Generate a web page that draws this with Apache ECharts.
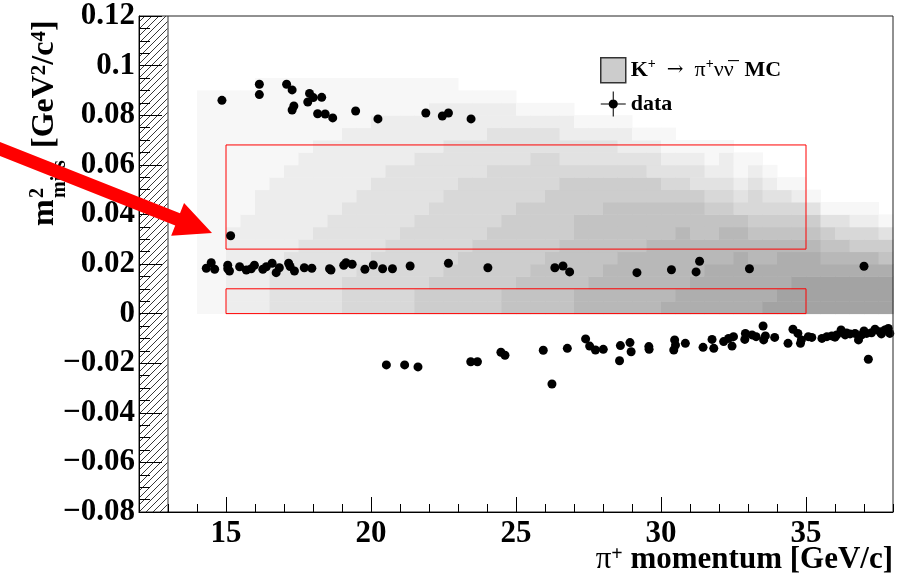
<!DOCTYPE html>
<html>
<head>
<meta charset="utf-8">
<script src="https://cdn.jsdelivr.net/npm/echarts@6/dist/echarts.min.js"></script>
<style>
  html, body { margin: 0; padding: 0; background: #fff; }
  #chart { width: 915px; height: 586px; }
</style>
</head>
<body>
<div id="chart"></div>
<script>
/* MC K+ -> pi+ nu nubar : grey level per 0.5 GeV column (from 14 GeV),
   each character = one m2 bin of 0.005 starting at 0 (bottom to top) */
var mcXStart = 14;
var mcXStep = 0.5;
var mcYStep = 0.005;
var mcColumns = [
  '1111111111111111110', // 14.0
  '1111111111111111110', // 14.5
  '2222222111111111110', // 15.0
  '2222222211111111110', // 15.5
  '2222222222111111111', // 16.0
  '3333222222211111111', // 16.5
  '3333322222221111111', // 17.0
  '3333332222222111111', // 17.5
  '3333333222222211111', // 18.0
  '3333333322222211111', // 18.5
  '4443333332222221111', // 19.0
  '4444333333222221111', // 19.5
  '4444433333322222111', // 20.0
  '4444443333332222111', // 20.5
  '4444444333332222111', // 21.0
  '5544444433333222111', // 21.5
  '5554444443333222211', // 22.0
  '5555444444333322211', // 22.5
  '5555544444433322210', // 23.0
  '5555554444433322210', // 23.5
  '5555555444443332210', // 24.0
  '6655555544443332210', // 24.5
  '6665555554443332100', // 25.0
  '6666555554444332100', // 25.5
  '6666655555444332100', // 26.0
  '6666665555543322100', // 26.5
  '7766666655543321000', // 27.0
  '7776666655543321000', // 27.5
  '7777666665543321000', // 28.0
  '7777766665543221000', // 28.5
  '7777766665543210000', // 29.0
  '7777776665533210000', // 29.5
  '8777776665432110000', // 30.0
  '8877777665432100000', // 30.5
  '8887776665332100000', // 31.0
  '8888776654321100000', // 31.5
  '8888777654322100000', // 32.0
  '8888877643211000000', // 32.5
  '8888776544321000000', // 33.0
  '9888776543210000000', // 33.5
  '9988876543100000000', // 34.0
  '9998876542100000000', // 34.5
  '9998876531000000000', // 35.0
  '9998765310000000000', // 35.5
  '9998764310000000000', // 36.0
  '9998754210000000000', // 36.5
  '9998754210000000000', // 37.0
  '9998653100000000000'  // 37.5
];

/* data events [p (GeV/c), m2miss (GeV2/c4)] */
var dataHigh = [
  [14.86, 0.086], [16.15, 0.0925], [16.15, 0.0883], [17.09, 0.0925], [17.28, 0.0902],
  [17.34, 0.0837], [17.28, 0.0821], [17.88, 0.0888], [18.01, 0.0871], [17.82, 0.0853],
  [18.30, 0.0872], [18.16, 0.0806], [18.42, 0.0805], [18.68, 0.0789], [19.47, 0.0817],
  [20.24, 0.0785], [21.89, 0.0809], [22.46, 0.0797], [22.67, 0.0809], [23.45, 0.0785],
  [15.16, 0.0314]
];
var dataMid = [
  [14.32, 0.0183], [14.49, 0.0205], [14.61, 0.0179], [15.06, 0.0195], [15.12, 0.0172],
  [15.06, 0.0181], [15.47, 0.0189], [15.70, 0.0176], [15.98, 0.0195], [15.87, 0.0181],
  [16.27, 0.0179], [16.39, 0.0189], [16.59, 0.0203], [16.73, 0.0165], [16.84, 0.0185],
  [17.16, 0.0203], [17.21, 0.0190], [17.36, 0.0172], [17.70, 0.0185], [17.96, 0.0183],
  [18.57, 0.0181], [18.62, 0.0176], [19.06, 0.0195], [19.14, 0.0205], [19.35, 0.0199],
  [19.79, 0.0179], [20.08, 0.0196], [20.40, 0.0181], [20.74, 0.0181], [21.35, 0.0192],
  [22.67, 0.0203], [24.03, 0.0185], [26.34, 0.0185], [26.62, 0.0192], [26.85, 0.0168],
  [29.17, 0.0165], [30.36, 0.0177], [31.21, 0.0168], [31.33, 0.0211], [33.05, 0.0181],
  [37.00, 0.0191]
];
var dataLow = [
  [20.53, -0.0207], [21.16, -0.0207], [21.62, -0.0215], [23.44, -0.0194], [23.67, -0.0194],
  [24.48, -0.0156], [24.62, -0.0168], [25.94, -0.0148], [26.24, -0.0284], [26.77, -0.0140],
  [27.40, -0.0102], [27.54, -0.0131], [27.74, -0.0147], [28.01, -0.0144], [28.60, -0.0129],
  [28.93, -0.0117], [28.97, -0.0154], [28.57, -0.0190], [29.58, -0.0133], [29.59, -0.0144],
  [30.47, -0.0106], [30.44, -0.0147], [30.50, -0.0127], [30.84, -0.0120], [31.45, -0.0136],
  [31.76, -0.0104], [31.82, -0.0140], [32.16, -0.0113], [32.33, -0.0100], [32.50, -0.0093],
  [32.45, -0.0131], [32.91, -0.0080], [32.89, -0.0104], [33.14, -0.0086], [33.28, -0.0093],
  [33.52, -0.0050], [33.54, -0.0106], [33.60, -0.0090], [33.92, -0.0096], [34.38, -0.0120],
  [34.55, -0.0063], [34.72, -0.0080], [34.84, -0.0106], [34.81, -0.0120], [35.20, -0.0096],
  [35.08, -0.0093], [35.55, -0.0100], [35.72, -0.0093], [35.89, -0.0090], [36.06, -0.0086],
  [36.21, -0.0066], [36.35, -0.0086], [36.52, -0.0082], [36.69, -0.0080], [36.81, -0.0106],
  [36.92, -0.0086], [37.09, -0.0080], [37.26, -0.0077], [37.38, -0.0063], [37.55, -0.0073],
  [37.72, -0.0066], [37.89, -0.0080], [37.84, -0.0060], [37.15, -0.0184], [36.40, -0.0078],
  [37.00, -0.0070], [37.60, -0.0082], [36.00, -0.0095]
];

/* signal regions [pMin, pMax, m2Min, m2Max] */
var signalRegions = [[15, 35, 0, 0.01], [15, 35, 0.026, 0.068]];
/* excluded momentum band (hatched) */
var hatchBand = [12, 13];

var xMajorTicks = [15, 20, 25, 30, 35];

var FONT = '"Liberation Serif", "DejaVu Serif", serif';

function hatchPattern() {
  var c = document.createElement('canvas');
  c.width = 7; c.height = 7;
  var g = c.getContext('2d');
  g.fillStyle = '#fff';
  g.fillRect(0, 0, 7, 7);
  g.strokeStyle = '#222';
  g.lineWidth = 0.9;
  g.beginPath();
  g.moveTo(-1, 8);
  g.lineTo(8, -1);
  g.stroke();
  return c;
}

// build mc cells
var mcData = [];
mcColumns.forEach(function (col, i) {
  var x0 = mcXStart + i * mcXStep;
  for (var j = 0; j < col.length; j++) {
    var lv = Number(col[j]);
    if (lv > 0) mcData.push([x0, x0 + mcXStep, j * mcYStep, (j + 1) * mcYStep, lv]);
  }
});

var dataAll = dataHigh.concat(dataMid, dataLow);

var dom = document.getElementById('chart');
var myChart = echarts.init(dom, null, { renderer: 'canvas' });

var option = {
  animation: false,
  backgroundColor: '#fff',
  grid: {
    left: 139, right: 22, top: 16, bottom: 74,
    containLabel: false, outerBoundsMode: 'none',
    show: true, borderColor: '#222', borderWidth: 1, z: 5
  },
  legend: {
    orient: 'vertical',
    left: 595, top: 52,
    itemWidth: 25, itemHeight: 25, itemGap: 8,
    selectedMode: false,
    data: [
      { name: 'mc', icon: 'rect', itemStyle: { color: '#cccccc', borderColor: '#333', borderWidth: 1.5 } },
      { name: 'data', icon: 'path://M0,11.5H24V12.5H0Z M11.5,0H12.5V24H11.5Z M12,7.6A4.4,4.4,0,1,1,11.99,7.6Z', itemStyle: { color: '#000' } }
    ],
    formatter: function (n) {
      if (n === 'mc') return '{b|K}{s|+}  {a|\u2192}  {n|\u03c0}{s|+}{n|\u03bd\u03bd\u0305}  {b|MC}';
      return '{b|data}';
    },
    textStyle: {
      fontFamily: FONT, fontSize: 22, fontWeight: 'bold', color: '#000',
      rich: {
        b: { fontFamily: FONT, fontSize: 22, fontWeight: 'bold', color: '#000', lineHeight: 26 },
        n: { fontFamily: FONT, fontSize: 22, fontWeight: 'normal', color: '#000', lineHeight: 26 },
        a: { fontFamily: '"DejaVu Serif", serif', fontSize: 20, fontWeight: 'normal', color: '#000', lineHeight: 26 },
        s: { fontFamily: FONT, fontSize: 14, fontWeight: 'bold', color: '#000', lineHeight: 14, verticalAlign: 'top' }
      }
    }
  },
  xAxis: [{
    type: 'value', min: 12, max: 38, z: 10,
    axisLine: { show: true, onZero: false, lineStyle: { color: '#000', width: 1 } },
    axisTick: { show: true, inside: true, length: 15, customValues: xMajorTicks, lineStyle: { color: '#000' } },
    axisLabel: {
      show: true, customValues: xMajorTicks, margin: 6,
      fontFamily: FONT, fontSize: 31, fontWeight: 'bold', color: '#000'
    },
    splitLine: { show: false }
  }, {
    type: 'value', min: 12, max: 38, interval: 1, position: 'bottom', z: 10,
    axisLine: { show: false, onZero: false },
    axisTick: { show: true, inside: true, length: 8, lineStyle: { color: '#000' } },
    axisLabel: { show: false },
    splitLine: { show: false }
  }],
  yAxis: {
    type: 'value', min: -0.08, max: 0.12, interval: 0.02, z: 10,
    axisLine: { show: true, onZero: false, lineStyle: { color: '#000', width: 1 } },
    axisTick: { show: true, inside: true, length: 23, lineStyle: { color: '#000' } },
    minorTick: { show: true, splitNumber: 4, length: 11, lineStyle: { color: '#000' } },
    axisLabel: {
      margin: 4, fontFamily: FONT, fontSize: 31, fontWeight: 'bold', color: '#000',
      formatter: function (v) {
        return String(Number(v.toFixed(3))).replace('-', '\u2212');
      }
    },
    splitLine: { show: false }
  },
  series: [{
    name: 'hatch',
    type: 'custom',
    silent: true,
    z: 1,
    data: [hatchBand],
    encode: { x: [0, 1] },
    renderItem: function (params, api) {
      var p0 = api.coord([api.value(0), 0.12]);
      var p1 = api.coord([api.value(1), -0.08]);
      return {
        type: 'group',
        children: [{
          type: 'rect',
          shape: { x: p0[0], y: p0[1], width: p1[0] - p0[0], height: p1[1] - p0[1] },
          style: { fill: { image: hatchPattern(), repeat: 'repeat' } }
        }, {
          type: 'line',
          shape: { x1: p1[0], y1: p0[1], x2: p1[0], y2: p1[1] },
          style: { stroke: '#777', lineWidth: 1.5 }
        }]
      };
    }
  }, {
    name: 'mc',
    type: 'custom',
    silent: true,
    z: 2,
    itemStyle: { color: '#cccccc' },
    data: mcData,
    encode: { x: [0, 1], y: [2, 3] },
    renderItem: function (params, api) {
      var p0 = api.coord([api.value(0), api.value(3)]);
      var p1 = api.coord([api.value(1), api.value(2)]);
      var g = Math.round(247 - (api.value(4) - 1) * 10.5);
      return {
        type: 'rect',
        shape: { x: p0[0], y: p0[1], width: p1[0] - p0[0] + 0.5, height: p1[1] - p0[1] + 0.5 },
        style: { fill: 'rgb(' + g + ',' + g + ',' + g + ')' }
      };
    }
  }, {
    name: 'data',
    type: 'scatter',
    z: 4,
    symbol: 'circle',
    symbolSize: 9,
    itemStyle: { color: '#000', opacity: 1 },
    data: dataAll,
    markArea: {
      silent: true,
      z: 3,
      itemStyle: { color: 'rgba(0,0,0,0)', borderColor: '#ff0000', borderWidth: 1, opacity: 1 },
      data: signalRegions.map(function (r) {
        return [{ coord: [r[0], r[3]] }, { coord: [r[1], r[2]] }];
      })
    }
  }],
  graphic: []
};

// y title, drawn as text pieces so the 2 stacks over "miss"
var ySubFont = 'bold 20px ' + FONT;
option.graphic.push({
  type: 'group', x: 45, y: 226, rotation: Math.PI / 2, z: 50,
  children: [
    { type: 'text', x: 0, y: 0, style: { text: 'm', font: 'bold 32px ' + FONT, fill: '#000', verticalAlign: 'middle', align: 'left' } },
    { type: 'text', x: 28, y: -7, style: { text: '2', font: ySubFont, fill: '#000', verticalAlign: 'middle', align: 'left' } },
    { type: 'text', x: 28, y: 15, style: { text: 'miss', font: ySubFont, fill: '#000', verticalAlign: 'middle', align: 'left' } },
    { type: 'text', x: 78, y: 0, style: {
        text: '{t|[GeV}{s|2}{t|/c}{s|4}{t|]}', verticalAlign: 'middle', align: 'left',
        rich: {
          t: { fontFamily: FONT, fontSize: 32, fontWeight: 'bold', fill: '#000', lineHeight: 32 },
          s: { fontFamily: FONT, fontSize: 21, fontWeight: 'bold', fill: '#000', lineHeight: 21, verticalAlign: 'top' }
        }
    } }
  ]
});

// x title
option.graphic.push({
  type: 'text', x: 893, y: 560, z: 50,
  style: {
    text: '{n|\u03c0}{s|+}{t| momentum [GeV/c]}', align: 'right', verticalAlign: 'middle',
    rich: {
      t: { fontFamily: FONT, fontSize: 31, fontWeight: 'bold', fill: '#000', lineHeight: 31 },
      n: { fontFamily: FONT, fontSize: 31, fontWeight: 'normal', fill: '#000', lineHeight: 31 },
      s: { fontFamily: FONT, fontSize: 20, fontWeight: 'bold', fill: '#000', lineHeight: 20, verticalAlign: 'top' }
    }
  }
});

// red arrow (annotation, pixel space)
(function () {
  var tail = [-10, 145], tip = [212, 233];
  var dx = tip[0] - tail[0], dy = tip[1] - tail[1];
  var len = Math.sqrt(dx * dx + dy * dy);
  var ux = dx / len, uy = dy / len, nx = -uy, ny = ux;
  var hw = 6.5, hh = 17.5, hl = 37;
  var bx = tip[0] - ux * hl, by = tip[1] - uy * hl;
  option.graphic.push({
    type: 'polygon', z: 100, silent: true,
    shape: {
      points: [
        [tail[0] + nx * hw, tail[1] + ny * hw],
        [bx + nx * hw, by + ny * hw],
        [bx + nx * hh, by + ny * hh],
        tip,
        [bx - nx * hh, by - ny * hh],
        [bx - nx * hw, by - ny * hw],
        [tail[0] - nx * hw, tail[1] - ny * hw]
      ]
    },
    style: { fill: '#ff0000' }
  });
})();

if (option && typeof option === 'object') {
  myChart.setOption(option, true);
}
</script>
</body>
</html>
